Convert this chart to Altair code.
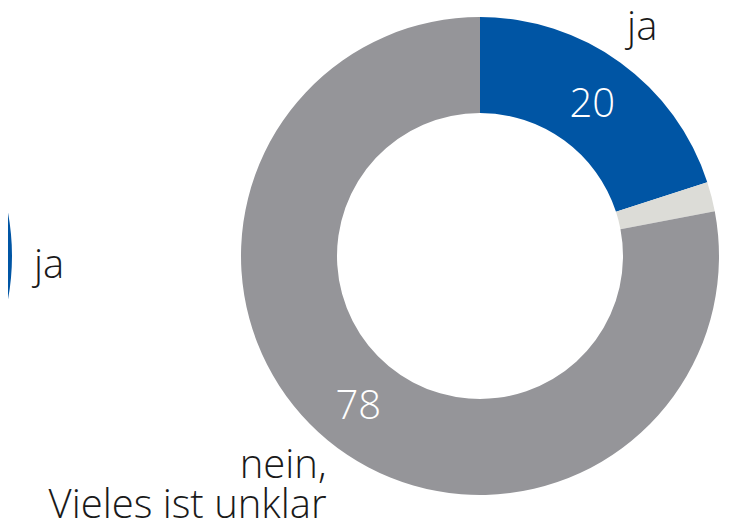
import altair as alt
import pandas as pd

categories = ["ja", "unklar", "nein"]
colors = ["#0055a4", "#dcdcd7", "#959599"]
order_index = [1, 2, 3]

right_values = [20, 2, 78]
right_inner = ["20", "", "78"]
right_label_ja = ["ja", "", ""]
right_label_nein = ["", "", "nein,\nVieles ist unklar"]

left_values = [50, 2, 48]
left_label_ja = ["ja", "", ""]

FONT = "Open Sans"
FSIZE = 40

dfR = pd.DataFrame({
    "cat": categories, "value": right_values, "ord": order_index,
    "inner": right_inner, "lab_ja": right_label_ja, "lab_nein": right_label_nein,
})
dfL = pd.DataFrame({
    "cat": categories, "value": left_values, "ord": order_index,
    "lab_ja": left_label_ja,
})

color = alt.Color("cat:N", scale=alt.Scale(domain=categories, range=colors), legend=None)
theta = alt.Theta("value:Q", stack=True)
order = alt.Order("ord:Q")

cxR, cyR = 472, 248
cxL = -235

arcR = alt.Chart(dfR).mark_arc(outerRadius=239, innerRadius=143).encode(
    theta=theta, color=color, order=order, x=alt.value(cxR), y=alt.value(cyR))
innerR = alt.Chart(dfR).mark_text(radius=191, dy=16, font=FONT, fontSize=FSIZE, fontWeight=300,
                                  color="white", baseline="alphabetic", align="center").encode(
    theta=theta, order=order, text="inner:N", x=alt.value(cxR), y=alt.value(cyR))
jaR = alt.Chart(dfR).mark_text(radius=276, dy=7, font=FONT, fontSize=FSIZE, fontWeight=300,
                               color="#1a1a1a", baseline="alphabetic", align="center").encode(
    theta=theta, order=order, text="lab_ja:N", x=alt.value(cxR), y=alt.value(cyR))
neinR = alt.Chart(dfR).mark_text(radius=280, dx=25, dy=6, font=FONT, fontSize=FSIZE, fontWeight=300,
                                 color="#1a1a1a", baseline="alphabetic", align="right",
                                 lineBreak="\n", lineHeight=40).encode(
    theta=theta, order=order, text="lab_nein:N", x=alt.value(cxR), y=alt.value(cyR))

arcL = alt.Chart(dfL).mark_arc(outerRadius=239, innerRadius=143).encode(
    theta=theta, color=color, order=order, x=alt.value(cxL), y=alt.value(cyR))
jaL = alt.Chart(dfL).mark_text(radius=276, dy=22, font=FONT, fontSize=FSIZE, fontWeight=300,
                               color="#1a1a1a", baseline="alphabetic", align="center").encode(
    theta=theta, order=order, text="lab_ja:N", x=alt.value(cxL), y=alt.value(cyR))

chart = alt.layer(arcL, jaL, arcR, innerR, jaR, neinR).properties(
    width=717, height=512, padding=0,
    autosize=alt.AutoSizeParams(type="none"),
).configure_view(stroke=None)

chart.save("out.html", embed_options={"renderer": "svg", "actions": False})
